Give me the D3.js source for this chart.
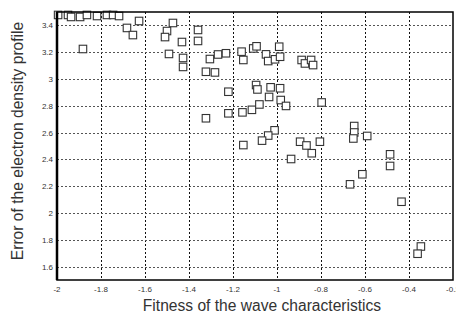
<!DOCTYPE html>
<html>
<head>
<meta charset="utf-8">
<script src="https://cdn.jsdelivr.net/npm/d3@7"></script>
<style>
  body { margin: 0; background: #fff; }
  svg { display: block; font-family: "Liberation Sans", Arial, sans-serif; }
</style>
</head>
<body>
<figure id="scatter" style="margin:0"></figure>
<script>
// fitness values (x) and profile error (y)
const fitness = [
  -1.995, -1.95, -1.936, -1.895, -1.864, -1.818, -1.773, -1.745, -1.718,
  -1.627, -1.682, -1.655, -1.882,
  -1.473, -1.5, -1.509, -1.432, -1.491, -1.427, -1.427, -1.359, -1.359,
  -1.305, -1.268, -1.232, -1.323, -1.282, -1.161, -1.153, -1.108, -1.093,
  -1.05, -1.04, -1.009, -0.99, -0.986,
  -0.888, -0.873, -0.845, -0.836,
  -1.221, -1.221, -1.323,
  -1.095, -1.089, -1.029, -0.986, -1.036, -0.983, -0.959, -0.797,
  -1.157, -1.114, -1.08,
  -1.011, -1.04, -1.068, -1.153, -0.895, -0.866, -0.805, -0.842, -0.936,
  -0.649, -0.649, -0.653, -0.59,
  -0.486, -0.486, -0.612, -0.668, -0.434, -0.346, -0.361
];
const profileError = [
  3.478, 3.478, 3.463, 3.463, 3.478, 3.47, 3.478, 3.478, 3.47,
  3.433, 3.381, 3.328, 3.224,
  3.418, 3.358, 3.313, 3.276, 3.187, 3.157, 3.09, 3.366, 3.284,
  3.149, 3.183, 3.192, 3.054, 3.049, 3.204, 3.142, 3.228, 3.244,
  3.184, 3.134, 3.147, 3.241, 3.166,
  3.142, 3.116, 3.142, 3.104,
  2.905, 2.744, 2.707,
  2.955, 2.922, 2.938, 2.931, 2.866, 2.843, 2.799, 2.825,
  2.751, 2.77, 2.81,
  2.617, 2.578, 2.54, 2.507, 2.532, 2.504, 2.532, 2.446, 2.403,
  2.649, 2.601, 2.556, 2.575,
  2.438, 2.351, 2.289, 2.214, 2.084, 1.75, 1.696
];
const xTicks = [-2, -1.8, -1.6, -1.4, -1.2, -1, -0.8, -0.6, -0.4, -0.2];
const xTickLabels = ["-2", "-1.8", "-1.6", "-1.4", "-1.2", "-1", "-0.8", "-0.6", "-0.4", "-0.2"];
const yTicks = [1.6, 1.8, 2, 2.2, 2.4, 2.6, 2.8, 3, 3.2, 3.4];
const yTickLabels = ["1.6", "1.8", "2", "2.2", "2.4", "2.6", "2.8", "3", "3.2", "3.4"];

const width = 456, height = 323;
const margin = {top: 12, right: 3, bottom: 43, left: 57};

const svg = d3.select("figure#scatter")
  .append("svg")
  .attr("width", width)
  .attr("height", height);

const x = d3.scaleLinear().domain([-2, -0.2]).range([margin.left, width - margin.right]);
const y = d3.scaleLinear().domain([1.5, 3.5]).range([height - margin.bottom, margin.top]);

// dotted grid
svg.append("g")
  .selectAll("line")
  .data(xTicks.slice(1, -1))
  .join("line")
  .attr("x1", d => Math.round(x(d)) + 0.5)
  .attr("x2", d => Math.round(x(d)) + 0.5)
  .attr("y1", y(3.5))
  .attr("y2", y(1.5))
  .attr("stroke", "#111")
  .attr("stroke-dasharray", "2,2");
svg.append("g")
  .selectAll("line")
  .data(yTicks)
  .join("line")
  .attr("x1", x(-2))
  .attr("x2", x(-0.2))
  .attr("y1", d => Math.round(y(d)) + 0.5)
  .attr("y2", d => Math.round(y(d)) + 0.5)
  .attr("stroke", "#555")
  .attr("stroke-dasharray", "2,2");

// tick labels
svg.append("g")
  .selectAll("text")
  .data(xTicks)
  .join("text")
  .attr("x", d => x(d))
  .attr("y", 292)
  .attr("text-anchor", "middle")
  .attr("font-size", 8)
  .attr("fill", "#333")
  .text((d, i) => xTickLabels[i]);
svg.append("g")
  .selectAll("text")
  .data(yTicks)
  .join("text")
  .attr("x", 53)
  .attr("y", d => y(d) + 3)
  .attr("text-anchor", "end")
  .attr("font-size", 8)
  .attr("fill", "#333")
  .text((d, i) => yTickLabels[i]);

// points
const pts = fitness.map((f, i) => ({f: f, e: profileError[i]}));
const s = 7.5;
svg.append("g")
  .selectAll("rect")
  .data(pts)
  .join("rect")
  .attr("x", d => x(d.f) - s / 2)
  .attr("y", d => y(d.e) - s / 2)
  .attr("width", s)
  .attr("height", s)
  .attr("fill", "#fff")
  .attr("stroke", "#333")
  .attr("stroke-width", 1.1);

// frame
svg.append("rect")
  .attr("x", x(-2))
  .attr("y", y(3.5))
  .attr("width", x(-0.2) - x(-2))
  .attr("height", y(1.5) - y(3.5))
  .attr("fill", "none")
  .attr("stroke", "#000")
  .attr("stroke-width", 1.5);
svg.append("line")
  .attr("x1", x(-2)).attr("x2", x(-2))
  .attr("y1", y(3.5)).attr("y2", y(1.5))
  .attr("stroke", "#000")
  .attr("stroke-width", 2.5);

// axis titles
svg.append("text")
  .attr("x", 262)
  .attr("y", 311)
  .attr("text-anchor", "middle")
  .attr("font-size", 15.6)
  .attr("fill", "#333")
  .text("Fitness of the wave characteristics");
svg.append("text")
  .attr("transform", "translate(23,141) rotate(-90)")
  .attr("text-anchor", "middle")
  .attr("font-size", 15.6)
  .attr("fill", "#333")
  .text("Error of the electron density profile");
</script>
</body>
</html>
